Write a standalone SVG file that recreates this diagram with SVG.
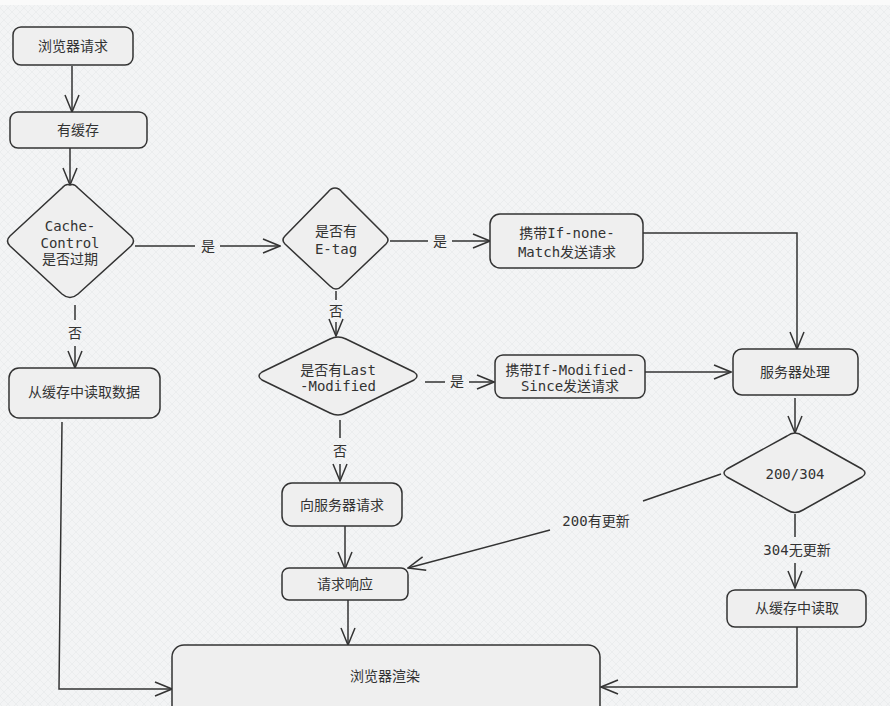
<svg xmlns="http://www.w3.org/2000/svg" width="890" height="706" viewBox="0 0 890 706">
<defs>
<pattern id="hatch" width="8" height="8" patternUnits="userSpaceOnUse">
<rect width="8" height="8" fill="#f3f4f5"/>
<path d="M0 8 L8 0 M0 0 L8 8" stroke="#e6e8ea" stroke-width="0.6"/>
</pattern>
<marker id="arr" viewBox="0 0 20 20" refX="19" refY="10" markerWidth="20" markerHeight="20" markerUnits="userSpaceOnUse" orient="auto">
<path d="M2 3 L19 10 L2 17" fill="none" stroke="#333" stroke-width="1.5"/>
</marker>
</defs>
<style>
.node rect,.node path{fill:#efefef;stroke:#333;stroke-width:1.5}
text{font-family:"DejaVu Sans Mono","Noto Sans CJK SC",monospace;font-size:14px;fill:#333;text-anchor:middle;dominant-baseline:central}
.edge{fill:none;stroke:#333;stroke-width:1.5}
.lbl{font-size:14px}
</style>
<rect width="890" height="706" fill="url(#hatch)"/>
<rect width="890" height="5" fill="#fafafa"/>

<g id="edges">
<path class="edge" d="M72 66 V112" marker-end="url(#arr)"/>
<path class="edge" d="M70 148 V185" marker-end="url(#arr)"/>
<path class="edge" d="M135 246 H195 M220 246 H280" marker-end="url(#arr)"/>
<path class="edge" d="M390 241 H428 M452 241 H490" marker-end="url(#arr)"/>
<path class="edge" d="M643 233 H797 V349" marker-end="url(#arr)"/>
<path class="edge" d="M336 291 V300 M336 322 V336" marker-end="url(#arr)"/>
<path class="edge" d="M425 382 H445 M469 382 H494" marker-end="url(#arr)"/>
<path class="edge" d="M645 372 H731" marker-end="url(#arr)"/>
<path class="edge" d="M795 398 V433" marker-end="url(#arr)"/>
<path class="edge" d="M795 514 V537 M795 563 V588" marker-end="url(#arr)"/>
<path class="edge" d="M797 627 V687 H601" marker-end="url(#arr)"/>
<path class="edge" d="M721 474 L643 501 M550 530 L408 568" marker-end="url(#arr)"/>
<path class="edge" d="M75 305 V320 M75 346 V368" marker-end="url(#arr)"/>
<path class="edge" d="M62 422 L59 689 H172" marker-end="url(#arr)"/>
<path class="edge" d="M340 420 V438 M340 464 V481" marker-end="url(#arr)"/>
<path class="edge" d="M345 517 V569" marker-end="url(#arr)"/>
<path class="edge" d="M348 600 V645" marker-end="url(#arr)"/>
<text class="lbl" x="208" y="246">是</text>
<text class="lbl" x="440" y="241">是</text>
<text class="lbl" x="336" y="311">否</text>
<text class="lbl" x="457" y="381">是</text>
<text class="lbl" x="75" y="333">否</text>
<text class="lbl" x="340" y="451">否</text>
<text class="lbl" x="596" y="521">200有更新</text>
<text class="lbl" x="797" y="550">304无更新</text>
</g>

<g id="n1" class="node"><rect x="13" y="27" width="120" height="38" rx="8"/><text x="73" y="46">浏览器请求</text></g>
<g id="n2" class="node"><rect x="10" y="112" width="137" height="36" rx="8"/><text x="78" y="130">有缓存</text></g>
<g id="n3" class="node"><path d="M70 185 Q74 183 78 188 L131 236 Q136 241 131 246 L78 294 Q70 301 62 294 L10 246 Q5 241 10 236 L62 188 Q66 183 70 185 Z"/><text x="70" y="226">Cache-</text><text x="70" y="243">Control</text><text x="70" y="259">是否过期</text></g>
<g id="n4" class="node"><path d="M335 188 Q339 188 342 192 L386 236 Q390 240 386 244 L342 286 Q336 292 330 286 L285 244 Q281 240 285 236 L328 192 Q331 188 335 188 Z"/><text x="336" y="231">是否有</text><text x="336" y="249">E-tag</text></g>
<g id="n5" class="node"><rect x="490" y="214" width="153" height="54" rx="10"/><text x="567" y="233">携带If-none-</text><text x="567" y="252">Match发送请求</text></g>
<g id="n6" class="node"><rect x="733" y="349" width="125" height="46" rx="9"/><text x="795" y="372">服务器处理</text></g>
<g id="n7" class="node"><path d="M338 337 Q342 337 346 339 L414 372 Q420 376 414 380 L346 413 Q338 417 330 413 L262 380 Q256 376 262 372 L330 339 Q334 337 338 337 Z"/><text x="338" y="370">是否有Last</text><text x="338" y="386">-Modified</text></g>
<g id="n8" class="node"><rect x="495" y="355" width="150" height="43" rx="8"/><text x="570" y="370">携带If-Modified-</text><text x="570" y="386">Since发送请求</text></g>
<g id="n9" class="node"><path d="M795 433 Q799 433 803 436 L862 469 Q868 473 862 477 L803 510 Q795 515 787 510 L727 477 Q721 473 727 469 L787 436 Q791 433 795 433 Z"/><text x="795" y="474">200/304</text></g>
<g id="n10" class="node"><rect x="727" y="590" width="139" height="37" rx="8"/><text x="797" y="608">从缓存中读取</text></g>
<g id="n11" class="node"><rect x="9" y="368" width="151" height="50" rx="10"/><text x="84" y="392">从缓存中读取数据</text></g>
<g id="n12" class="node"><rect x="282" y="483" width="120" height="43" rx="10"/><text x="342" y="505">向服务器请求</text></g>
<g id="n13" class="node"><rect x="282" y="568" width="126" height="32" rx="7"/><text x="345" y="584">请求响应</text></g>
<g id="n14" class="node"><rect x="172" y="645" width="428" height="75" rx="12"/><text x="385" y="676">浏览器渲染</text></g>
</svg>
